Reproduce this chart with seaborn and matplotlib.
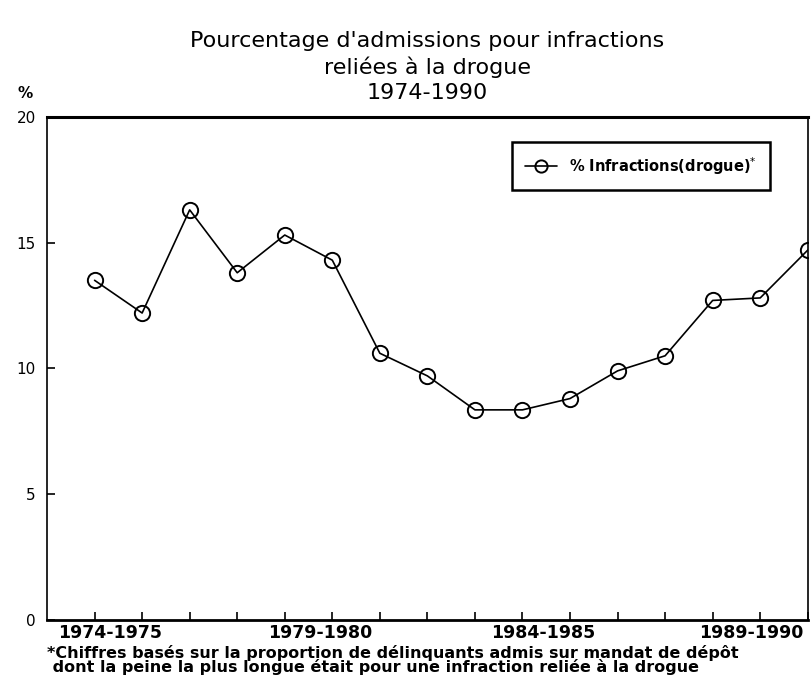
import pandas as pd
import matplotlib.pyplot as plt
import seaborn as sns

years = ["1974-1975", "1975-1976", "1976-1977", "1977-1978", "1978-1979",
         "1979-1980", "1980-1981", "1981-1982", "1982-1983", "1983-1984",
         "1984-1985", "1985-1986", "1986-1987", "1987-1988", "1988-1989",
         "1989-1990"]
pct = [13.5, 12.2, 16.3, 13.8, 15.3, 14.3, 10.6, 9.7, 8.35, 8.35,
       8.8, 9.9, 10.5, 12.7, 12.8, 14.7]
tick_labels = ["1974-1975", "1979-1980", "1984-1985", "1989-1990"]
label_shift_pt = [11, -9, -19, -41]

df = pd.DataFrame({"idx": range(len(years)), "annee": years, "pct": pct})

sns.set_style("ticks")
plt.rcParams['font.family'] = ['DejaVu Sans']
plt.rcParams['text.color'] = 'black'
plt.rcParams['xtick.color'] = 'black'
plt.rcParams['ytick.color'] = 'black'

fig = plt.figure(figsize=(8.11, 6.79), dpi=100)
ax = fig.add_axes([0.058, 0.087, 0.938, 0.741])

sns.lineplot(data=df, x="idx", y="pct", ax=ax, color="black", linewidth=1.2,
             marker="o", markersize=11, markerfacecolor="none",
             markeredgecolor="black", markeredgewidth=1.4,
             label="% Infractions(drogue)$^{*}$")

ax.set_xlim(-1, 15)
ax.set_ylim(0, 20)
ax.set_yticks([0, 5, 10, 15, 20])
ax.set_xticks(range(len(years)))
ax.set_xticklabels([])
# period labels under the axis, nudged left as in the original
for lab, shift in zip(tick_labels, label_shift_pt):
    ax.annotate(lab, xy=(years.index(lab), 0), xycoords="data",
                xytext=(shift, -3), textcoords="offset points",
                ha="center", va="top", fontsize=12.5, fontweight="bold",
                annotation_clip=False)
ax.tick_params(axis="both", direction="in", length=6, width=1.2,
               colors="black", labelsize=11)
ax.tick_params(axis="y", pad=8)
ax.set_xlabel("")
ax.set_ylabel("")

for s in ax.spines.values():
    s.set_visible(True)
    s.set_color("black")
    s.set_linewidth(1.2)
ax.spines["top"].set_linewidth(2.2)
ax.spines["bottom"].set_linewidth(2.0)

ax.set_title("Pourcentage d'admissions pour infractions\nreliées à la drogue\n1974-1990",
             fontsize=16, linespacing=1.3, pad=13, color="black")
fig.text(0.022, 0.855, "%", fontsize=11, fontweight="bold")

leg = ax.legend(loc="upper right", bbox_to_anchor=(0.96, 0.965), fancybox=False,
                framealpha=1, edgecolor="black",
                prop={"weight": "bold", "size": 10.5}, handlelength=2.2,
                borderpad=0.9, markerscale=0.8)
leg.get_frame().set_linewidth(1.8)

fig.text(0.058, 0.006,
         "*Chiffres basés sur la proportion de délinquants admis sur mandat de dépôt\n"
         " dont la peine la plus longue était pour une infraction reliée à la drogue",
         fontsize=11.5, fontweight="bold", linespacing=0.85, va="bottom")

fig.savefig("out.png", dpi=100)
